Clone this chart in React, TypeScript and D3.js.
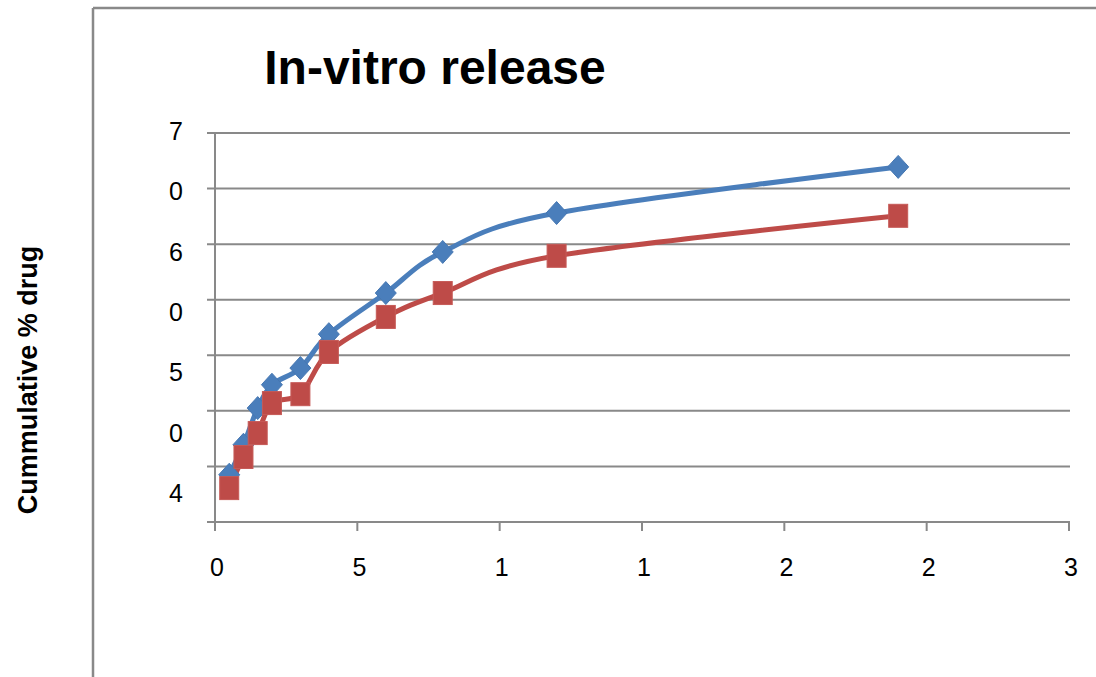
import React from "react";
import * as d3 from "d3";

// Release time points (h) and cumulative release for the two formulations
const hours = [0.5, 1, 1.5, 2, 3, 4, 6, 8, 12, 24];
const formulationA = [8.5, 13.9, 20.5, 24.7, 27.7, 33.8, 41.2, 48.6, 55.6, 63.9];
const formulationB = [6.1, 11.7, 16.0, 21.4, 23.0, 30.6, 36.9, 41.2, 47.9, 55.1];

// Axis ticks and their printed labels
const xTickValues = [0, 5, 10, 15, 20, 25, 30];
const xTickLabels = ["0", "5", "1", "1", "2", "2", "3"];
const yGridValues = [0, 10, 20, 30, 40, 50, 60, 70];
const yTickLabels = ["7", "0", "6", "0", "5", "0", "4"];

const W = 1096;
const H = 677;
const GRID = "#898989";
const BLUE = "#4a7ebb";
const RED = "#be4b48";

export default function App() {
  const x = d3.scaleLinear().domain([0, 30]).range([215, 1069]);
  const y = d3.scaleLinear().domain([0, 70]).range([522, 133]);
  const yLab = d3
    .scalePoint<number>()
    .domain(yTickLabels.map((_, i) => i))
    .range([131, 493]);

  const line = d3
    .line<number>()
    .x((_, i) => x(hours[i]))
    .y((v) => y(v))
    .curve(d3.curveCardinal.tension(0));

  const font = "'Liberation Sans', Arial, sans-serif";

  return (
    <svg
      width={W}
      height={H}
      style={{ position: "absolute", left: 0, top: 0, display: "block", background: "#fff" }}
    >
      {/* chart frame */}
      <line x1={93} y1={8} x2={W} y2={8} stroke={GRID} strokeWidth={2.5} />
      <line x1={93} y1={8} x2={93} y2={H} stroke={GRID} strokeWidth={2.5} />

      {/* title */}
      <text x={435} y={84} textAnchor="middle" fontFamily={font} fontWeight="bold" fontSize={48}>
        In-vitro release
      </text>

      {/* y axis title */}
      <text
        transform={`translate(37,380) rotate(-90)`}
        textAnchor="middle"
        fontFamily={font}
        fontWeight="bold"
        fontSize={27}
      >
        Cummulative % drug
      </text>

      {/* horizontal gridlines with left ticks */}
      {yGridValues.map((v) => (
        <line key={v} x1={207} x2={1070} y1={y(v)} y2={y(v)} stroke={GRID} strokeWidth={2} />
      ))}
      {/* vertical axis */}
      <line x1={215} x2={215} y1={y(70)} y2={531} stroke={GRID} strokeWidth={2} />
      {/* x ticks */}
      {xTickValues.map((v) => (
        <line key={v} x1={x(v)} x2={x(v)} y1={522} y2={531} stroke={GRID} strokeWidth={2} />
      ))}

      {/* y tick labels */}
      {yTickLabels.map((t, i) => (
        <text
          key={i}
          x={183}
          y={(yLab(i) as number) + 9}
          textAnchor="end"
          fontFamily={font}
          fontSize={25}
          fill="#000"
        >
          {t}
        </text>
      ))}

      {/* x tick labels */}
      {xTickValues.map((v, i) => (
        <text
          key={v}
          x={x(v) + 2}
          y={576}
          textAnchor="middle"
          fontFamily={font}
          fontSize={25}
          fill="#000"
        >
          {xTickLabels[i]}
        </text>
      ))}

      {/* series A: line */}
      <path d={line(formulationA) || ""} fill="none" stroke={BLUE} strokeWidth={5} />
      {/* series B: line */}
      <path d={line(formulationB) || ""} fill="none" stroke={RED} strokeWidth={5} />

      {/* series A: diamond markers */}
      {formulationA.map((v, i) => {
        const cx = x(hours[i]);
        const cy = y(v);
        return (
          <path
            key={"a" + i}
            d={`M${cx},${cy - 11.5} L${cx + 10.5},${cy} L${cx},${cy + 11.5} L${cx - 10.5},${cy} Z`}
            fill={BLUE}
            stroke="#4677b2"
            strokeWidth={1}
          />
        );
      })}
      {/* series B: square markers */}
      {formulationB.map((v, i) => {
        const cx = x(hours[i]);
        const cy = y(v);
        return (
          <rect
            key={"b" + i}
            x={cx - 9.5}
            y={cy - 11.5}
            width={19}
            height={23}
            fill={RED}
            stroke="#c65a57"
            strokeWidth={1}
          />
        );
      })}
    </svg>
  );
}
